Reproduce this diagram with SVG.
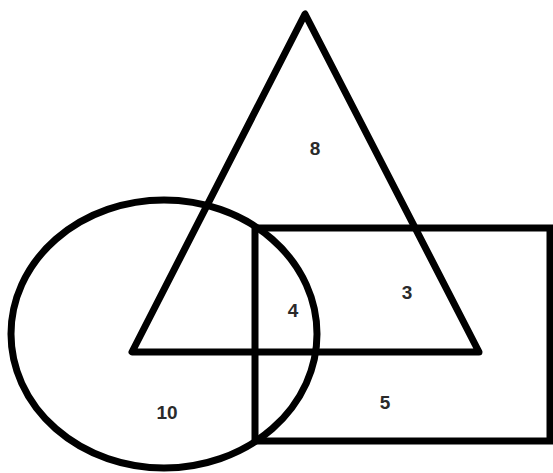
<svg xmlns="http://www.w3.org/2000/svg" width="553" height="473" viewBox="0 0 553 473">
<style>
.s{fill:none;stroke:#000;stroke-width:7}
.t{font-family:"Liberation Sans",Arial,sans-serif;font-weight:bold;font-size:19px;fill:#2a2a2a;text-anchor:middle}
</style>
<rect width="553" height="473" fill="#fff"/>
<g id="circle"><ellipse class="s" cx="164" cy="334" rx="153" ry="134"/></g>
<g id="rectangle"><rect class="s" x="255" y="228" width="295" height="213"/></g>
<g id="triangle"><polygon class="s" stroke-linejoin="round" points="305,14 132,352 479,352"/></g>
<g id="labels">
<text class="t" x="315" y="155">8</text>
<text class="t" x="407" y="299">3</text>
<text class="t" x="293" y="317">4</text>
<text class="t" x="167" y="419">10</text>
<text class="t" x="385" y="409">5</text>
</g>
</svg>
